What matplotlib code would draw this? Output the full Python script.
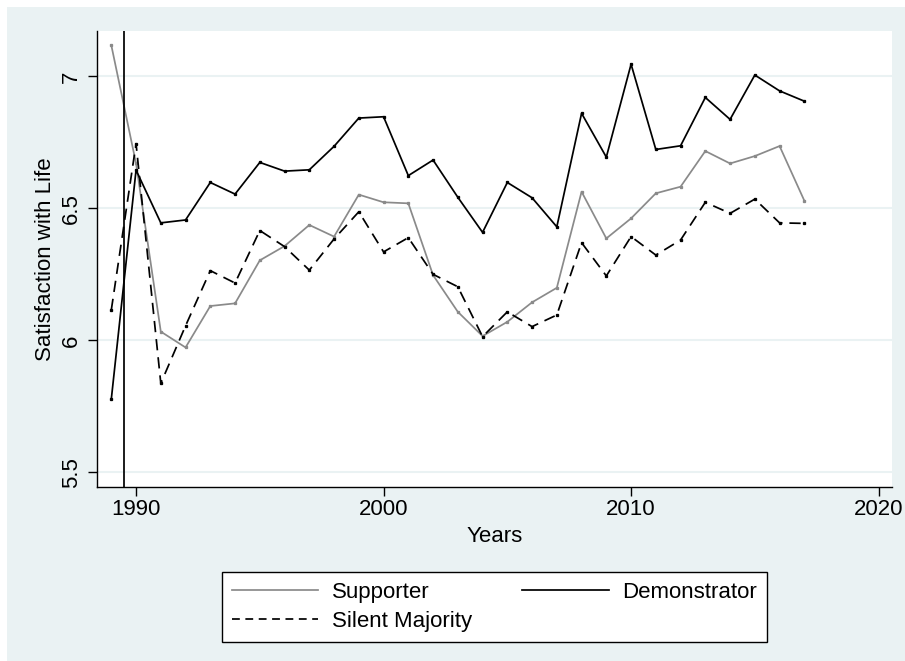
import matplotlib
matplotlib.use("Agg")
import matplotlib.pyplot as plt
from matplotlib.patches import Rectangle

plt.rcParams["font.family"] = ["Liberation Sans", "DejaVu Sans"]

# Survey years and mean life satisfaction per group
years = list(range(1989, 2018))
supporter = [7.118, 6.670, 6.033, 5.973, 6.130, 6.140, 6.303, 6.357, 6.437, 6.393,
             6.552, 6.523, 6.519, 6.247, 6.108, 6.016, 6.070, 6.144, 6.199, 6.563,
             6.386, 6.462, 6.557, 6.582, 6.717, 6.670, 6.698, 6.736, 6.529]
demonstrator = [5.777, 6.645, 6.445, 6.456, 6.598, 6.554, 6.674, 6.641, 6.646, 6.735,
                6.842, 6.847, 6.624, 6.683, 6.542, 6.409, 6.598, 6.540, 6.430, 6.860,
                6.694, 7.046, 6.723, 6.737, 6.920, 6.837, 7.005, 6.945, 6.906]
silent_majority = [6.115, 6.745, 5.837, 6.055, 6.264, 6.217, 6.416, 6.355, 6.266, 6.384,
                   6.487, 6.335, 6.389, 6.250, 6.203, 6.014, 6.108, 6.052, 6.096, 6.370,
                   6.244, 6.393, 6.323, 6.380, 6.523, 6.481, 6.535, 6.445, 6.443]
event_year = 1989.5
x_ticks = [1990, 2000, 2010, 2020]
y_ticks = [5.5, 6, 6.5, 7]
y_tick_labels = ["5.5", "6", "6.5", "7"]

W, H = 905, 661
BG = "#EAF2F3"
GRAY = "#8a8a8a"
FS = 16

fig = plt.figure(figsize=(W / 100, H / 100), dpi=100, facecolor="white")
# graph region (light tint), inset by a thin white margin at top/left
fig.patches.append(Rectangle((7 / W, 0), 1 - 7 / W, 1 - 7 / H,
                             transform=fig.transFigure, facecolor=BG,
                             edgecolor="none", zorder=-10))

ax = fig.add_axes([96.7 / W, 1 - 486.7 / H, (891.7 - 96.7) / W, (486.7 - 30.7) / H])
ax.set_facecolor("white")

lw = 1.25
ms = 1.4
ax.plot(years, supporter, color=GRAY, lw=lw, marker="s", ms=ms, label="Supporter")
ax.plot(years, demonstrator, color="black", lw=lw, marker="s", ms=ms, label="Demonstrator")
ax.plot(years, silent_majority, color="black", lw=lw, ls=(0, (6.5, 4)),
        marker="s", ms=ms, label="Silent Majority")
ax.axvline(event_year, color="black", lw=lw)

ax.set_xlim(1988.41, 2020.53)
ax.set_ylim(5.4455, 7.173)
ax.set_xticks(x_ticks)
ax.set_yticks(y_ticks)
ax.set_yticklabels(y_tick_labels, rotation=90, va="center")
ax.yaxis.grid(True, color=BG, lw=1.5, zorder=0)
ax.set_axisbelow(True)

for side in ("top", "right"):
    ax.spines[side].set_visible(False)
for side in ("left", "bottom"):
    ax.spines[side].set_linewidth(1.0)
    ax.spines[side].set_color("black")

ax.tick_params(axis="both", labelsize=FS, length=6.5, width=1.0, color="black")
ax.tick_params(axis="x", pad=2)
ax.tick_params(axis="y", pad=4)

ax.set_xlabel("Years", fontsize=FS, labelpad=5)
ax.set_ylabel("Satisfaction with Life", fontsize=FS, labelpad=4)

handles, labels = ax.get_legend_handles_labels()
order = [0, 2, 1]
leg = fig.legend([handles[i] for i in order], [labels[i] for i in order],
                 ncol=2, loc="upper left",
                 bbox_to_anchor=(221.5 / W, 1 - 572 / H, (766.8 - 221.5) / W, 0.0),
                 mode="expand", fontsize=FS, frameon=True, fancybox=False,
                 edgecolor="black", facecolor="white", framealpha=1,
                 handlelength=3.9, handletextpad=0.6, borderpad=0.45,
                 labelspacing=0.35, borderaxespad=0)
leg.get_frame().set_linewidth(1.0)
for h in leg.legend_handles:
    h.set_marker("")
    h.set_linestyle(h.get_linestyle())
leg.legend_handles[1].set_dashes((4.5, 3.2))

fig.savefig("out.png", dpi=100, facecolor=fig.get_facecolor())
